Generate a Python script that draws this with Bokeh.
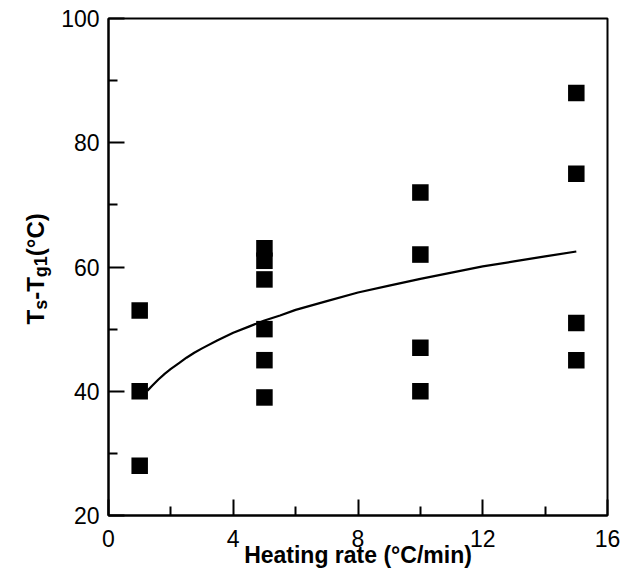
from bokeh.plotting import figure
from bokeh.layouts import row
from bokeh.models import FixedTicker, Range1d, ColumnDataSource
from bokeh.core.properties import value
from bokeh.embed import file_html
from bokeh.resources import INLINE

# Heating rate (°C/min) and the measured Ts - Tg1 difference (°C)
heating_rate = [1, 1, 1, 5, 5, 5, 5, 5, 5, 10, 10, 10, 10, 15, 15, 15, 15]
delta_t = [53, 40, 28, 63, 61, 58, 50, 45, 39, 72, 62, 47, 40, 88, 75, 51, 45]

# Fitted trend curve
fit_rate = [1.25, 1.4, 1.6, 1.8, 2, 2.25, 2.5, 2.75, 3, 3.5, 4, 4.5, 5, 5.5,
            6, 7, 8, 9, 10, 11, 12, 13, 14, 15]
fit_delta = [40.1, 40.9, 41.9, 42.8, 43.6, 44.5, 45.4, 46.2, 46.9, 48.2, 49.4,
             50.4, 51.4, 52.2, 53.1, 54.5, 55.9, 57.0, 58.1, 59.1, 60.1, 60.9,
             61.7, 62.5]

x_ticks = [0, 4, 8, 12, 16]
x_minor = [2, 6, 10, 14]
y_ticks = [20, 40, 60, 80, 100]
y_minor = [30, 50, 70, 90]

FONT = "Liberation Sans"
W, H = 628, 577
STRIP = 56                      # narrow strip holding the vertical title
LEFT, RIGHT, TOP, BOTTOM = 108, 21, 18, 62
X0, X1, Y0, Y1 = 0, 16, 20, 100

p = figure(width=W - STRIP, height=H, output_backend="svg", toolbar_location=None,
           x_range=Range1d(X0, X1), y_range=Range1d(Y0, Y1),
           min_border_left=LEFT - STRIP, min_border_right=RIGHT,
           min_border_top=TOP, min_border_bottom=BOTTOM)
p.grid.visible = False
p.background_fill_color = "white"
p.border_fill_color = "white"
p.outline_line_color = "black"
p.outline_line_width = 2

for ax, major, minor in ((p.xaxis[0], x_ticks, x_minor), (p.yaxis[0], y_ticks, y_minor)):
    ax.ticker = FixedTicker(ticks=major, minor_ticks=minor)
    ax.axis_line_width = 2
    ax.axis_line_color = "black"
    ax.major_tick_in = 16
    ax.major_tick_out = 0
    ax.minor_tick_in = 9
    ax.minor_tick_out = 0
    ax.major_tick_line_width = 2
    ax.minor_tick_line_width = 2
    ax.major_tick_line_color = "black"
    ax.minor_tick_line_color = "black"
    ax.major_label_text_font = FONT
    ax.major_label_text_font_size = "23px"
    ax.major_label_text_color = "black"
p.xaxis.major_label_standoff = 14
p.yaxis.major_label_standoff = 9

p.xaxis.axis_label = "Heating rate (°C/min)"
p.xaxis.axis_label_text_font = FONT
p.xaxis.axis_label_text_font_style = "bold"
p.xaxis.axis_label_text_font_size = "23px"
p.xaxis.axis_label_text_color = "black"
p.xaxis.axis_label_standoff = -8

p.line(fit_rate, fit_delta, line_width=2.2, line_color="black")
p.scatter(heating_rate, delta_t, marker="square", size=16.5,
          fill_color="black", line_color="black", line_width=0)

# Vertical title with subscripts, set piece by piece (reads bottom to top);
# each piece is centred on its own box so the rotation is about its middle.
EM = {"T": 0.611, "s": 0.556, "-": 0.333, "g": 0.611, "1": 0.556,
      "(": 0.333, "°": 0.4, "C": 0.722, ")": 0.333}
MAIN, SUB = 24, 18
MID = 0.35                      # em-box middle above the baseline
pieces = [("T", False), ("s", True), ("-T", False), ("g1", True), ("(°C)", False)]
base_x, sub_x = 43, 47
pos = 324
tx, ty, tt, ts = [], [], [], []
for txt, is_sub in pieces:
    size = SUB if is_sub else MAIN
    adv = sum(EM[c] for c in txt) * size
    tx.append((sub_x if is_sub else base_x) - MID * size)
    ty.append(H - (pos - adv / 2))
    tt.append(txt)
    ts.append(f"{size}px")
    pos -= adv

# the row lines up the frames vertically, so the strip's frame spans the
# same rows as the main frame; its y range is expressed in page rows.
title = figure(width=STRIP, height=H, output_backend="svg", toolbar_location=None,
               x_range=Range1d(0, STRIP), y_range=Range1d(BOTTOM, H - TOP),
               min_border_left=0, min_border_right=0,
               min_border_top=TOP, min_border_bottom=BOTTOM,
               x_axis_type=None, y_axis_type=None)
title.grid.visible = False
title.outline_line_color = None
title.background_fill_color = "white"
title.border_fill_color = "white"
title.text(x="x", y="y", text="text", text_font_size="size",
           source=ColumnDataSource(dict(x=tx, y=ty, text=tt, size=ts)),
           angle=1.5707963267948966, text_font=value(FONT),
           text_font_style="bold", text_align="center",
           text_baseline="middle", text_color="black")

layout = row(title, p, spacing=0)
open("out.html", "w").write(file_html(layout, INLINE))
